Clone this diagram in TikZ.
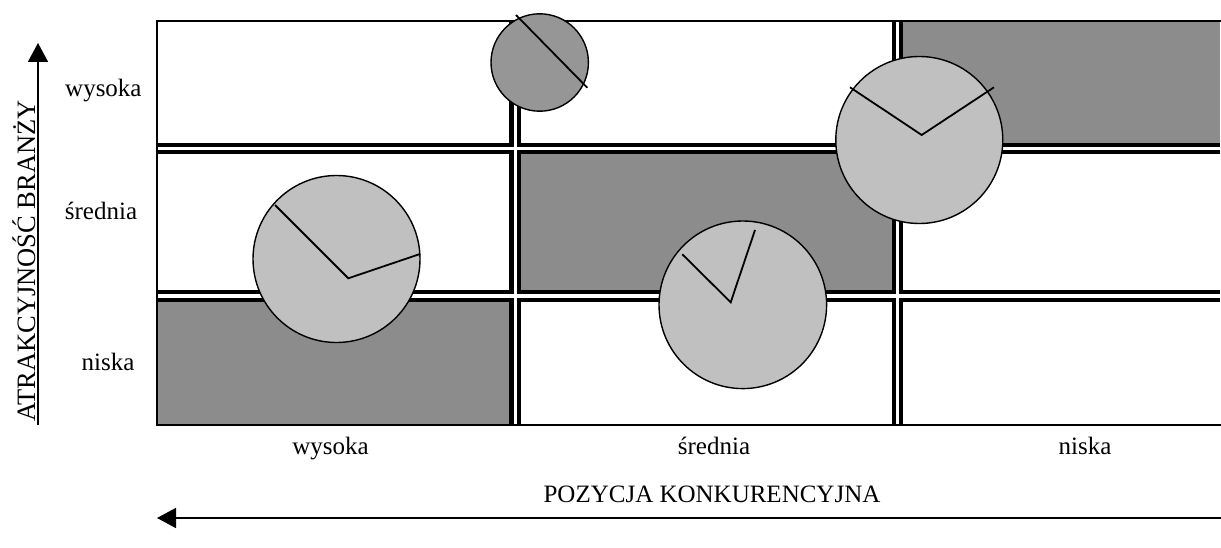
\documentclass[tikz,border=0pt]{standalone}
\usepackage{fontspec}
\setmainfont{Liberation Serif}
\usetikzlibrary{arrows.meta}
\definecolor{cellgray}{HTML}{8C8C8C}
\definecolor{bubble}{HTML}{C0C0C0}
\definecolor{smallbubble}{HTML}{969696}
\tikzset{
  lbl/.style={font=\fontsize{25}{30}\selectfont, anchor=base, inner sep=0pt},
  axislbl/.style={font=\fontsize{26.5}{30}\selectfont, anchor=base, inner sep=0pt},
  cell/.style={fill=cellgray, draw=none},
  gridblack/.style={line width=11.5pt, draw=black},
  gridwhite/.style={line width=3.3pt, draw=white},
  frame/.style={line width=1.6pt, draw=black},
  bubblestyle/.style={circle, draw=black, line width=1.4pt, fill=bubble, inner sep=0pt},
  smallbubblestyle/.style={circle, draw=black, line width=1.4pt, fill=smallbubble, inner sep=0pt},
  hand/.style={line width=1.8pt, draw=black},
  axis/.style={line width=1.8pt, -{Triangle[length=19pt,width=20pt]}},
}
\begin{document}
\begin{tikzpicture}[x=1pt,y=-1pt]
\useasboundingbox (0,0) rectangle (1221,548);
% grey cells
\fill[cell] (897,21) rectangle (1220,149);
\fill[cell] (515,149) rectangle (897,296);
\fill[cell] (157,296) rectangle (515,425);
% grid double lines
\draw[gridblack] (157,148.5) -- (1220,148.5);
\draw[gridblack] (157,296) -- (1220,296);
\draw[gridblack] (515.2,21) -- (515.2,425);
\draw[gridblack] (897.6,21) -- (897.6,425);
\draw[gridwhite] (157,148.5) -- (1220,148.5);
\draw[gridwhite] (157,296) -- (1220,296);
\draw[gridwhite] (515.2,21) -- (515.2,425);
\draw[gridwhite] (897.6,21) -- (897.6,425);
% outer frame
\draw[frame] (1221,21) -- (157,21) -- (157,425) -- (1221,425);
% bubbles
\node[smallbubblestyle, minimum size=97.4pt] (b1) at (539.7,62.5) {};
\coordinate (b1a) at (516,15);
\coordinate (b1b) at (587.3,87.7);
\draw[hand] (b1a) -- (b1b);

\node[bubblestyle, minimum size=167pt] (b2) at (336.5,259) {};
\coordinate (b2a) at (275,205);
\coordinate (b2v) at (348.3,278.3);
\coordinate (b2b) at (420,254);
\draw[hand] (b2a) -- (b2v) -- (b2b);

\node[bubblestyle, minimum size=167.6pt] (b3) at (742.8,304.8) {};
\coordinate (b3a) at (682.3,254.3);
\coordinate (b3v) at (730.7,302.3);
\coordinate (b3b) at (755,230);
\draw[hand] (b3a) -- (b3v) -- (b3b);

\node[bubblestyle, minimum size=167pt] (b4) at (919.3,140) {};
\coordinate (b4a) at (850,87.3);
\coordinate (b4v) at (921.7,135);
\coordinate (b4b) at (994,87.3);
\draw[hand] (b4a) -- (b4v) -- (b4b);
% row labels
\node[lbl] (rw) at (103.4,97) {wysoka};
\node[lbl] (rs) at (101,220) {średnia};
\node[lbl] (rn) at (108,370) {niska};
% column labels
\node[lbl] (cw) at (330.5,454) {wysoka};
\node[lbl] (cs) at (714,454) {średnia};
\node[lbl] (cn) at (1085,454) {niska};
% axes
\coordinate (ya) at (38,425);
\coordinate (yb) at (38,43);
\draw[axis] (ya) -- (yb);
\node[axislbl, rotate=90] (ylab) at (35,261) {ATRAKCYJNOŚĆ BRANŻY};
\coordinate (xa) at (1221,518);
\coordinate (xb) at (157,518);
\draw[axis] (xa) -- (xb);
\node[lbl] (xlab) at (712,502) {POZYCJA KONKURENCYJNA};
\end{tikzpicture}
\end{document}
